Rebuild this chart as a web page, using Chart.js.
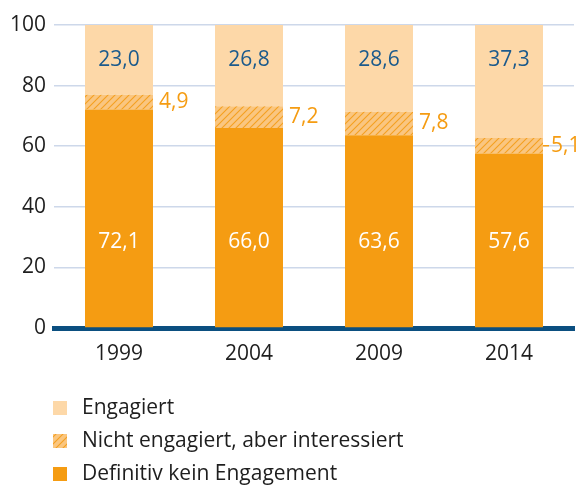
<!DOCTYPE html>
<html lang="de">
<head>
  <meta charset="UTF-8">
  <script src="https://cdn.jsdelivr.net/npm/chart.js"></script>
  <title>Engagement</title>
  <style>
    html, body { margin: 0; padding: 0; background: #fff; }
    canvas { display: block; }
  </style>
</head>
<body>
  <canvas id="chart" width="578" height="486"></canvas>
<script>
  // Daten
  const jahre = ['1999', '2004', '2009', '2014'];
  const definitivKein = [72.1, 66.0, 63.6, 57.6];
  const interessiert = [4.9, 7.2, 7.8, 5.1];
  const engagiert = [23.0, 26.8, 28.6, 37.3];
  const yTicks = [0, 20, 40, 60, 80, 100];

  const orange = '#F59C12';
  const hell = '#FDD8A8';
  const blau = '#1B5A8C';
  const schrift = '"Open Sans", sans-serif';
  const groesse = 21;

  // Schraffur fuer "Nicht engagiert"
  function schraffur() {
    const c = document.createElement('canvas');
    c.width = 7; c.height = 7;
    const g = c.getContext('2d');
    g.fillStyle = '#FAC680';
    g.fillRect(0, 0, 7, 7);
    g.strokeStyle = '#F5A020';
    g.lineWidth = 1.1;
    g.beginPath();
    g.moveTo(-1, 8); g.lineTo(8, -1);
    g.moveTo(-1, 1); g.lineTo(1, -1);
    g.moveTo(6, 8); g.lineTo(8, 6);
    g.stroke();
    return g.createPattern(c, 'repeat');
  }
  const muster = schraffur();

  const werteLabels = {
    id: 'werteLabels',
    afterDatasetsDraw(chart) {
      const ctx = chart.ctx;
      const y = chart.scales.y;
      ctx.save();
      ctx.font = groesse + 'px ' + schrift;
      ctx.textBaseline = 'middle';
      const fmt = v => v.toFixed(1).replace('.', ',');

      chart.getDatasetMeta(0).data.forEach((bar, i) => {
        ctx.fillStyle = '#fff';
        ctx.textAlign = 'center';
        ctx.fillText(fmt(definitivKein[i]), bar.x, y.getPixelForValue(28.5));
      });
      chart.getDatasetMeta(2).data.forEach((bar, i) => {
        ctx.fillStyle = blau;
        ctx.textAlign = 'center';
        ctx.fillText(fmt(engagiert[i]), bar.x, y.getPixelForValue(88.6));
      });
      chart.getDatasetMeta(1).data.forEach((bar, i) => {
        const mitte = (bar.y + bar.base) / 2;
        const rechts = bar.x + bar.width / 2;
        ctx.fillStyle = orange;
        ctx.textAlign = 'left';
        let x = rechts + 6;
        if (i === jahre.length - 1) {
          ctx.strokeStyle = orange;
          ctx.lineWidth = 1.5;
          ctx.beginPath();
          ctx.moveTo(rechts, mitte);
          ctx.lineTo(rechts + 6, mitte);
          ctx.stroke();
          x = rechts + 8;
        }
        ctx.fillText(fmt(interessiert[i]), x, mitte);
      });
      ctx.restore();
    }
  };

  const legende = {
    id: 'legende',
    afterDraw(chart) {
      const ctx = chart.ctx;
      ctx.save();
      ctx.font = groesse + 'px ' + schrift;
      ctx.textBaseline = 'middle';
      ctx.textAlign = 'left';
      const items = chart.data.datasets.slice().reverse();
      items.forEach((ds, k) => {
        const yy = 408 + k * 33;
        ctx.fillStyle = ds.backgroundColor;
        ctx.fillRect(53, yy - 7, 14, 14);
        ctx.fillStyle = '#1E1E1E';
        ctx.fillText(ds.label, 82, yy);
      });
      ctx.restore();
    }
  };

  new Chart(document.getElementById('chart'), {
    type: 'bar',
    data: {
      labels: jahre,
      datasets: [
        { label: 'Definitiv kein Engagement', data: definitivKein, backgroundColor: orange },
        { label: 'Nicht engagiert, aber interessiert', data: interessiert, backgroundColor: muster },
        { label: 'Engagiert', data: engagiert, backgroundColor: hell }
      ]
    },
    options: {
      responsive: false,
      animation: false,
      events: [],
      layout: { padding: { top: 25, right: 4, bottom: 100, left: 0 } },
      datasets: { bar: { barPercentage: 0.523, categoryPercentage: 1, borderWidth: 0 } },
      plugins: { legend: { display: false }, tooltip: { enabled: false } },
      scales: {
        x: {
          stacked: true,
          grid: { display: false, drawTicks: false },
          border: { color: '#0B4F80', width: 5 },
          ticks: { color: '#1E1E1E', font: { family: schrift, size: groesse }, padding: 13 },
          afterFit: s => { s.height = 58; }
        },
        y: {
          stacked: true,
          min: 0,
          max: 100,
          afterBuildTicks: s => { s.ticks = yTicks.map(v => ({ value: v })); },
          grid: { color: '#CDD8EA', lineWidth: 1.5, drawTicks: false },
          border: { display: false },
          ticks: { color: '#1E1E1E', font: { family: schrift, size: groesse }, padding: 8 },
          afterFit: s => { s.width = 54; }
        }
      }
    },
    plugins: [werteLabels, legende]
  });
</script>
</body>
</html>
